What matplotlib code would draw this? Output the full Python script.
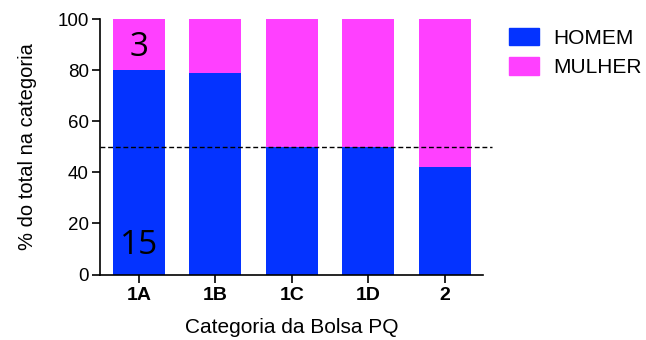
import matplotlib
matplotlib.use("Agg")
import matplotlib.pyplot as plt
from matplotlib.patches import Patch

categories = ["1A", "1B", "1C", "1D", "2"]
homem = [80, 79, 50, 50, 42]
mulher = [100 - h for h in homem]
annot_top = "3"
annot_bottom = "15"

blue = "#0433FF"
pink = "#FF40FF"

plt.rcParams['font.family'] = ['Liberation Sans', 'DejaVu Sans']

fig = plt.figure(figsize=(6.46, 3.40), dpi=100)
ax = fig.add_axes([100/646, 1 - 274.5/340, (483-100)/646, (274.5-19)/340])

x = list(range(len(categories)))
ax.bar(x, homem, width=0.68, color=blue, label="HOMEM")
ax.bar(x, mulher, bottom=homem, width=0.68, color=pink, label="MULHER")

ax.plot([0, (492-100)/(483-100)], [50, 50], transform=ax.get_yaxis_transform(),
        color='black', linestyle=(0, (3.5, 2)), linewidth=1, clip_on=False, zorder=3)

ax.set_xlim(-0.51, 4.5)
ax.set_ylim(0, 100)
ax.set_yticks([0, 20, 40, 60, 80, 100])
ax.set_xticks(x)
ax.set_xticklabels(categories, fontweight='bold', fontsize=14)
ax.tick_params(axis='y', labelsize=13.5, length=6, width=1.2, direction='out', pad=2)
ax.tick_params(axis='x', length=6, width=1.2, direction='out', pad=3)
for s in ['top', 'right']:
    ax.spines[s].set_visible(False)
for s in ['left', 'bottom']:
    ax.spines[s].set_linewidth(1.2)

ax.set_ylabel("% do total na categoria", fontsize=14.5, labelpad=15)
ax.set_xlabel("Categoria da Bolsa PQ", fontsize=15, labelpad=10)

ax.text(0, 89, annot_top, ha='center', va='center', fontsize=24, family=['Open Sans', 'DejaVu Sans'])
ax.text(0, 11.5, annot_bottom, ha='center', va='center', fontsize=24, family=['Open Sans', 'DejaVu Sans'])

handles = [Patch(color=blue), Patch(color=pink)]
fig.legend(handles, ["HOMEM", "MULHER"], loc='upper left', bbox_to_anchor=(509/646, 1 - 28/340),
           frameon=False, fontsize=15, handlelength=1.44, handleheight=0.91, labelspacing=0.45,
           handletextpad=0.67, borderpad=0, borderaxespad=0)

fig.savefig("out.png", dpi=100)
